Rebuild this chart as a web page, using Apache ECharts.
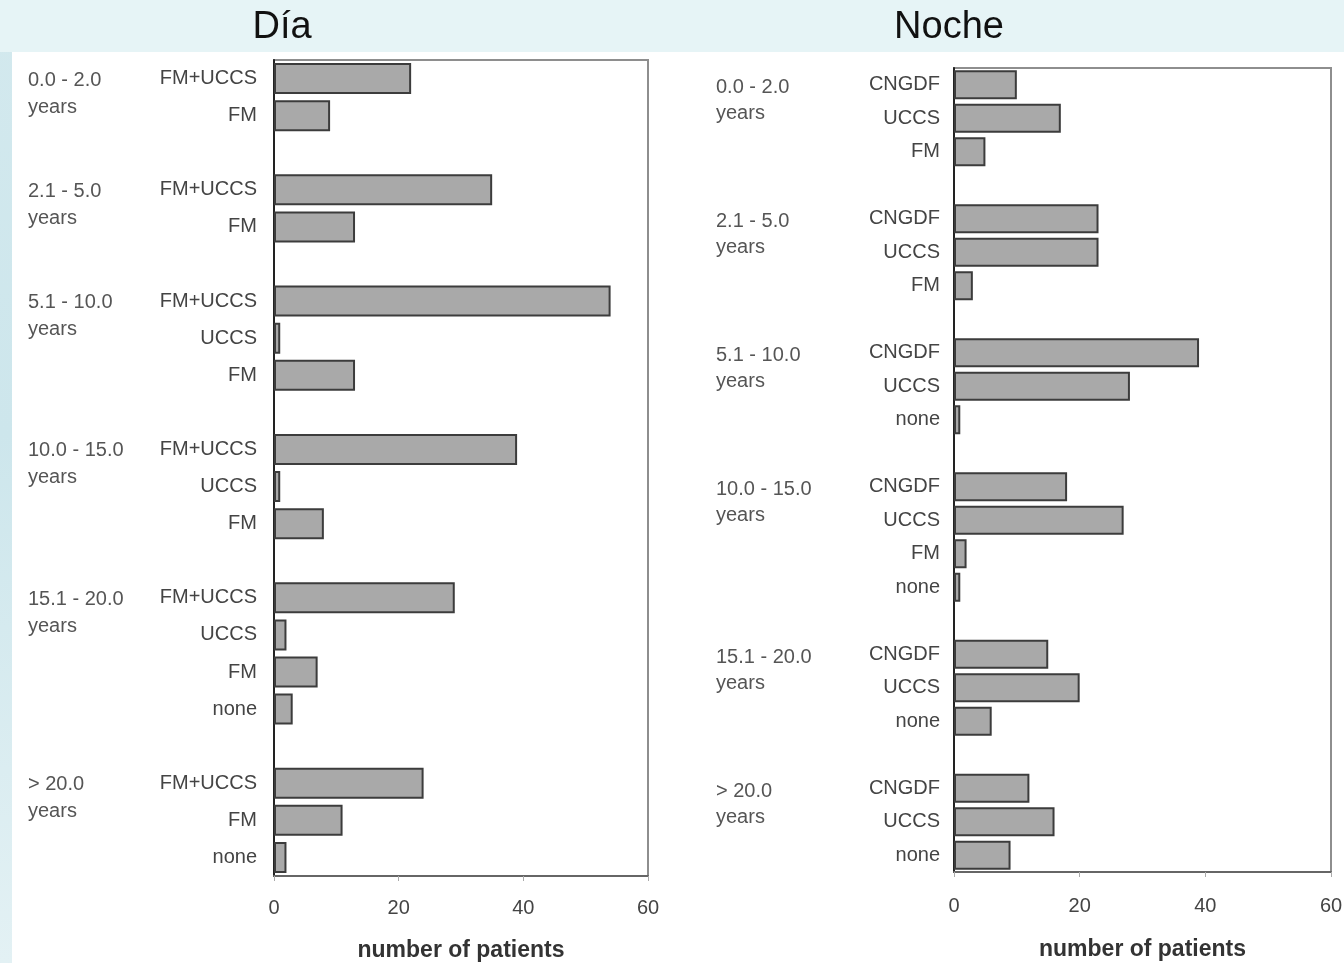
<!DOCTYPE html>
<html>
<head>
<meta charset="utf-8">
<title>Día / Noche</title>
<script src="https://cdn.jsdelivr.net/npm/echarts@6/dist/echarts.min.js"></script>
<style>
  html, body { margin: 0; padding: 0; }
  #chart {
    width: 1344px;
    height: 963px;
    background:
      linear-gradient(#e6f4f6, #e6f4f6) left top / 100% 52px no-repeat,
      linear-gradient(to bottom, #d3e9ee, #cde6ec 45%, #e3f1f4) left top / 12px 100% no-repeat,
      #ffffff;
  }
</style>
</head>
<body>
<div id="chart"></div>
<script>
// Age groups shown on both panels
const ageGroups = ['0.0 - 2.0', '2.1 - 5.0', '5.1 - 10.0', '10.0 - 15.0', '15.1 - 20.0', '> 20.0'];
const ageUnit = 'years';

// Día: treatment per age group and number of patients
const diaTypes = [
  ['FM+UCCS', 'FM'],
  ['FM+UCCS', 'FM'],
  ['FM+UCCS', 'UCCS', 'FM'],
  ['FM+UCCS', 'UCCS', 'FM'],
  ['FM+UCCS', 'UCCS', 'FM', 'none'],
  ['FM+UCCS', 'FM', 'none']
];
const diaValues = [
  [22, 9],
  [35, 13],
  [54, 1, 13],
  [39, 1, 8],
  [29, 2, 7, 3],
  [24, 11, 2]
];

// Noche: treatment per age group and number of patients
const nocheTypes = [
  ['CNGDF', 'UCCS', 'FM'],
  ['CNGDF', 'UCCS', 'FM'],
  ['CNGDF', 'UCCS', 'none'],
  ['CNGDF', 'UCCS', 'FM', 'none'],
  ['CNGDF', 'UCCS', 'none'],
  ['CNGDF', 'UCCS', 'none']
];
const nocheValues = [
  [10, 17, 5],
  [23, 23, 3],
  [39, 28, 1],
  [18, 27, 2, 1],
  [15, 20, 6],
  [12, 16, 9]
];

const panelTitles = ['Día', 'Noche'];
const xTicks = [0, 20, 40, 60];
const xName = 'number of patients';

// Flatten the groups into rows, with an empty row between groups.
// The group caption sits on the first row of its group; a spacer line
// pushes the age range level with that row and "years" just below it.
function buildRows(types, values) {
  const labels = [], data = [], groupAt = [];
  types.forEach((grp, g) => {
    if (g > 0) { labels.push(''); data.push(null); groupAt.push(''); }
    grp.forEach((t, k) => {
      labels.push(t);
      data.push(values[g][k]);
      groupAt.push(k === 0 ? '{gap| }\n{t|' + ageGroups[g] + '}\n{t|' + ageUnit + '}' : '');
    });
  });
  return { labels, data, groupAt };
}

const dia = buildRows(diaTypes, diaValues);
const noche = buildRows(nocheTypes, nocheValues);

const FONT = 'Arial, "Liberation Sans", sans-serif';
const panels = [
  { rows: dia,   grid: { left: 274, top: 60, width: 374, height: 816 }, titleX: 277, subMargin: 17, grpMargin: 246, lh: 27, gap: 30, barW: 31, tickMargin: 22, nameGap: 63 },
  { rows: noche, grid: { left: 954, top: 68, width: 377, height: 804 }, titleX: 944, subMargin: 14, grpMargin: 238, lh: 26, gap: 32, barW: 29, tickMargin: 24, nameGap: 66 }
];

const option = {
  animation: false,
  textStyle: { fontFamily: FONT },
  title: panels.map((p, i) => ({
    text: panelTitles[i],
    left: p.titleX,
    top: 4,
    textAlign: 'center',
    textStyle: { fontSize: 38, fontWeight: 'normal', color: '#111', fontFamily: FONT }
  })),
  grid: panels.map(p => Object.assign({
    containLabel: false,
    outerBoundsMode: 'none',
    show: true,
    backgroundColor: '#ffffff',
    borderColor: '#8e8e8e',
    borderWidth: 2
  }, p.grid)),
  xAxis: panels.map((p, i) => ({
    type: 'value',
    gridIndex: i,
    min: xTicks[0],
    max: xTicks[xTicks.length - 1],
    interval: xTicks[1] - xTicks[0],
    name: xName,
    nameLocation: 'middle',
    nameGap: p.nameGap,
    nameTextStyle: { fontSize: 23, fontWeight: 'bold', color: '#333', fontFamily: FONT },
    axisLine: { show: true, lineStyle: { color: '#666', width: 2 } },
    axisTick: { show: true, length: 5, lineStyle: { color: '#aaa', width: 1 } },
    axisLabel: { fontSize: 20, color: '#444', margin: p.tickMargin, fontFamily: FONT },
    splitLine: { show: false }
  })),
  yAxis: panels.flatMap((p, i) => [
    {
      type: 'category',
      gridIndex: i,
      inverse: true,
      position: 'left',
      data: p.rows.labels.map((_, k) => String(k)),
      axisLine: { show: true, onZero: false, lineStyle: { color: '#222', width: 2 } },
      axisTick: { show: false },
      splitLine: { show: false },
      axisLabel: {
        interval: 0,
        margin: p.subMargin,
        fontSize: 20,
        color: '#444',
        fontFamily: FONT,
        formatter: (v, k) => p.rows.labels[k]
      }
    },
    {
      type: 'category',
      gridIndex: i,
      inverse: true,
      position: 'left',
      offset: 0,
      data: p.rows.labels.map((_, k) => String(k)),
      axisLine: { show: false },
      axisTick: { show: false },
      splitLine: { show: false },
      axisLabel: {
        interval: 0,
        margin: p.grpMargin,
        align: 'left',
        verticalAlign: 'middle',
        fontSize: 20,
        color: '#555',
        fontFamily: FONT,
        formatter: (v, k) => p.rows.groupAt[k],
        rich: {
          gap: { fontSize: 4, lineHeight: p.gap },
          t: { fontSize: 20, lineHeight: p.lh, color: '#555', fontFamily: FONT }
        }
      }
    }
  ]),
  series: panels.map((p, i) => ({
    type: 'bar',
    xAxisIndex: i,
    yAxisIndex: i * 2,
    data: p.rows.data,
    barWidth: p.barW,
    itemStyle: { color: '#a9a9a9', borderColor: '#3c3c3c', borderWidth: 2 },
    emphasis: { disabled: true }
  }))
};

const chart = echarts.init(document.getElementById('chart'), null, { renderer: 'canvas' });
chart.setOption(option);
</script>
</body>
</html>
